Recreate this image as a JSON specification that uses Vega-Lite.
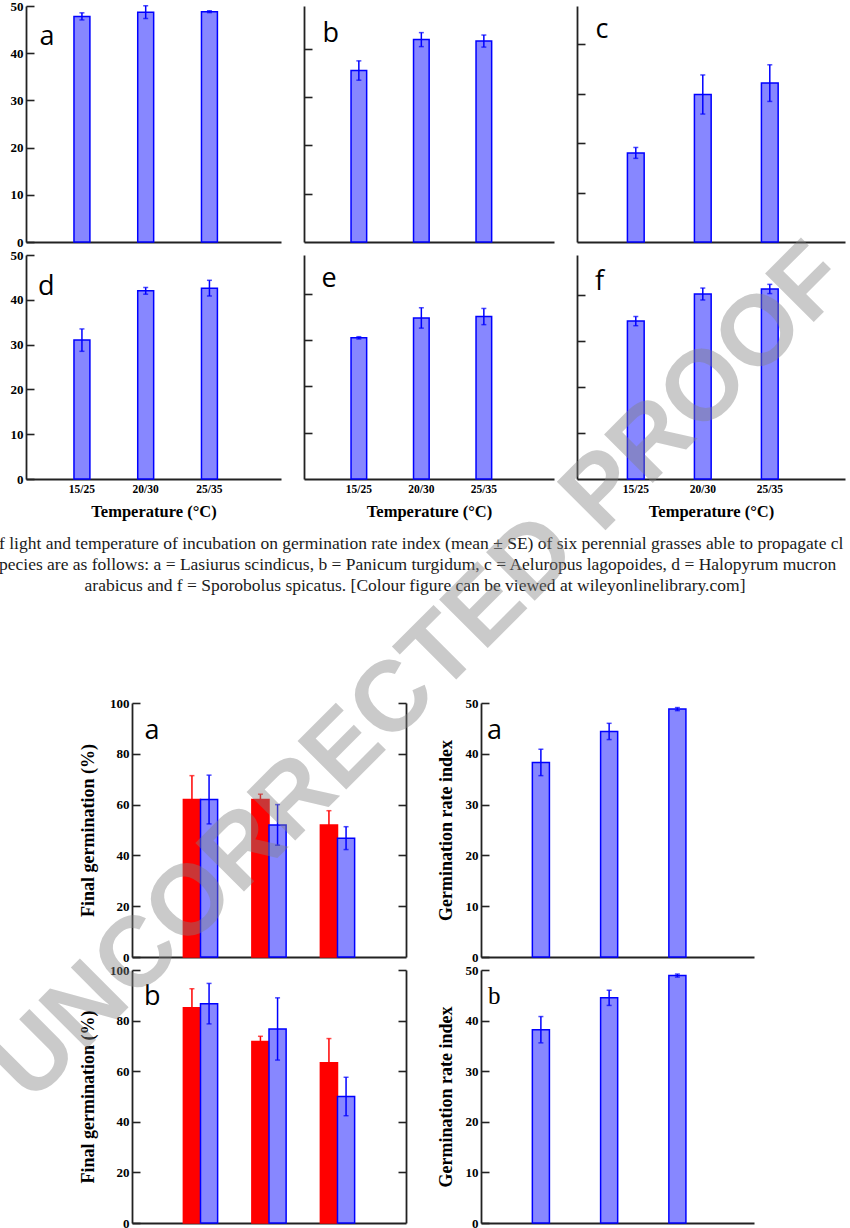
{
  "$schema": "https://vega.github.io/schema/vega-lite/v6.json",
  "background": "white",
  "padding": {"left": -26, "top": 0, "right": 0, "bottom": 0},
  "title": {
    "text": "UNCORRECTED PROOF",
    "orient": "top",
    "anchor": "middle",
    "frame": "bounds",
    "offset": -1561,
    "angle": -45,
    "baseline": "middle",
    "dx": -5,
    "font": "Liberation Sans",
    "fontSize": 100,
    "fontWeight": "bold",
    "color": "rgba(128,128,128,0.42)",
    "zindex": -1
  },
  "datasets": {
    "rate6": [
      {"panel": "a", "temp": "15/25", "mean": 47.8, "se": 0.75},
      {"panel": "a", "temp": "20/30", "mean": 48.7, "se": 1.35},
      {"panel": "a", "temp": "25/35", "mean": 48.8, "se": 0.2},
      {"panel": "b", "temp": "15/25", "mean": 35.5, "se": 2.0},
      {"panel": "b", "temp": "20/30", "mean": 41.9, "se": 1.45},
      {"panel": "b", "temp": "25/35", "mean": 41.6, "se": 1.25},
      {"panel": "c", "temp": "15/25", "mean": 18.0, "se": 1.1},
      {"panel": "c", "temp": "20/30", "mean": 29.8, "se": 3.95},
      {"panel": "c", "temp": "25/35", "mean": 32.1, "se": 3.7},
      {"panel": "d", "temp": "15/25", "mean": 31.0, "se": 2.5},
      {"panel": "d", "temp": "20/30", "mean": 42.0, "se": 0.75},
      {"panel": "d", "temp": "25/35", "mean": 42.6, "se": 1.75},
      {"panel": "e", "temp": "15/25", "mean": 30.5, "se": 0.25},
      {"panel": "e", "temp": "20/30", "mean": 34.8, "se": 2.2},
      {"panel": "e", "temp": "25/35", "mean": 35.1, "se": 1.75},
      {"panel": "f", "temp": "15/25", "mean": 34.4, "se": 1.0},
      {"panel": "f", "temp": "20/30", "mean": 40.3, "se": 1.3},
      {"panel": "f", "temp": "25/35", "mean": 41.4, "se": 1.0}
    ],
    "final": [
      {"panel": "a", "temp": "15/25", "treatment": "Dark", "mean": 62, "se": 9.4},
      {"panel": "a", "temp": "15/25", "treatment": "Light", "mean": 62, "se": 9.6},
      {"panel": "a", "temp": "20/30", "treatment": "Dark", "mean": 62, "se": 2.1},
      {"panel": "a", "temp": "20/30", "treatment": "Light", "mean": 52, "se": 8},
      {"panel": "a", "temp": "25/35", "treatment": "Dark", "mean": 52, "se": 5.6},
      {"panel": "a", "temp": "25/35", "treatment": "Light", "mean": 46.8, "se": 4.5},
      {"panel": "b", "temp": "15/25", "treatment": "Dark", "mean": 85.1, "se": 7.5},
      {"panel": "b", "temp": "15/25", "treatment": "Light", "mean": 86.7, "se": 8},
      {"panel": "b", "temp": "20/30", "treatment": "Dark", "mean": 71.7, "se": 2.1},
      {"panel": "b", "temp": "20/30", "treatment": "Light", "mean": 76.7, "se": 12.3},
      {"panel": "b", "temp": "25/35", "treatment": "Dark", "mean": 63.3, "se": 9.6},
      {"panel": "b", "temp": "25/35", "treatment": "Light", "mean": 50, "se": 7.6}
    ],
    "rate2": [
      {"panel": "a", "temp": "15/25", "mean": 38.3, "se": 2.6},
      {"panel": "a", "temp": "20/30", "mean": 44.4, "se": 1.6},
      {"panel": "a", "temp": "25/35", "mean": 48.8, "se": 0.3},
      {"panel": "b", "temp": "15/25", "mean": 38.2, "se": 2.6},
      {"panel": "b", "temp": "20/30", "mean": 44.5, "se": 1.5},
      {"panel": "b", "temp": "25/35", "mean": 48.9, "se": 0.3}
    ],
    "caption": [
      {"line": 1, "text": "f light and temperature of incubation on germination rate index (mean ± SE) of six perennial grasses able to propagate clo"},
      {"line": 2, "text": "pecies are as follows: a = Lasiurus scindicus, b = Panicum turgidum, c = Aeluropus lagopoides, d = Halopyrum mucronatum"},
      {"line": 3, "text": "arabicus and f = Sporobolus spicatus. [Colour figure can be viewed at wileyonlinelibrary.com]"}
    ]
  },
  "vconcat": [
    {
      "spacing": 13,
      "vconcat": [
        {
          "columns": 3,
          "spacing": {"row": 0, "column": 22},
          "concat": [
            {
              "width": 255, "height": 236,
              "title": {"text": "a", "offset": -50.5, "dx": 13.5},
              "data": {"name": "rate6"},
              "transform": [{"filter": "datum.panel === 'a'"}],
              "encoding": {
                "x": {"field": "temp", "type": "nominal", "scale": {"domain": ["15/25", "20/30", "25/35"], "paddingInner": 0.75, "paddingOuter": 0.875, "align": 0.43}, "axis": {"labels": false, "title": null}},
                "y": {"field": "mean", "type": "quantitative", "scale": {"domain": [0, 50], "nice": false}, "axis": {"values": [0, 10, 20, 30, 40, 50], "title": null}}
              },
              "layer": [
                {"mark": {"type": "bar", "fill": "#8787ff", "stroke": "#0000ff", "strokeWidth": 1.5}},
                {"mark": {"type": "errorbar", "ticks": true, "size": 5, "thickness": 1.5, "color": "#0000ff"}, "encoding": {"yError": {"field": "se"}}}
              ]
            },
            {
              "width": 250, "height": 236,
              "title": {"text": "b", "offset": -41.5, "dx": 18.5},
              "data": {"name": "rate6"},
              "transform": [{"filter": "datum.panel === 'b'"}],
              "encoding": {
                "x": {"field": "temp", "type": "nominal", "scale": {"domain": ["15/25", "20/30", "25/35"], "paddingInner": 0.75, "paddingOuter": 0.875, "align": 0.43}, "axis": {"labels": false, "title": null}},
                "y": {"field": "mean", "type": "quantitative", "scale": {"domain": [0, 48.86], "nice": false}, "axis": {"values": [10, 20, 30, 40], "labels": false, "title": null}}
              },
              "layer": [
                {"mark": {"type": "bar", "fill": "#8787ff", "stroke": "#0000ff", "strokeWidth": 1.5}},
                {"mark": {"type": "errorbar", "ticks": true, "size": 5, "thickness": 1.5, "color": "#0000ff"}, "encoding": {"yError": {"field": "se"}}}
              ]
            },
            {
              "width": 268, "height": 236,
              "title": {"text": "c", "offset": -37.5, "dx": 18.5},
              "data": {"name": "rate6"},
              "transform": [{"filter": "datum.panel === 'c'"}],
              "encoding": {
                "x": {"field": "temp", "type": "nominal", "scale": {"domain": ["15/25", "20/30", "25/35"], "paddingInner": 0.75, "paddingOuter": 0.875, "align": 0.43}, "axis": {"labels": false, "title": null}},
                "y": {"field": "mean", "type": "quantitative", "scale": {"domain": [0, 47.68], "nice": false}, "axis": {"values": [10, 20, 30, 40], "labels": false, "title": null}}
              },
              "layer": [
                {"mark": {"type": "bar", "fill": "#8787ff", "stroke": "#0000ff", "strokeWidth": 1.5}},
                {"mark": {"type": "errorbar", "ticks": true, "size": 5, "thickness": 1.5, "color": "#0000ff"}, "encoding": {"yError": {"field": "se"}}}
              ]
            },
            {
              "width": 255, "height": 224,
              "title": {"text": "d", "offset": -51.5, "dx": 12},
              "data": {"name": "rate6"},
              "transform": [{"filter": "datum.panel === 'd'"}],
              "encoding": {
                "x": {"field": "temp", "type": "nominal", "scale": {"domain": ["15/25", "20/30", "25/35"], "paddingInner": 0.75, "paddingOuter": 0.875, "align": 0.43}, "axis": {"title": "Temperature (°C)"}},
                "y": {"field": "mean", "type": "quantitative", "scale": {"domain": [0, 50], "nice": false}, "axis": {"values": [0, 10, 20, 30, 40, 50], "title": null}}
              },
              "layer": [
                {"mark": {"type": "bar", "fill": "#8787ff", "stroke": "#0000ff", "strokeWidth": 1.5}},
                {"mark": {"type": "errorbar", "ticks": true, "size": 5, "thickness": 1.5, "color": "#0000ff"}, "encoding": {"yError": {"field": "se"}}}
              ]
            },
            {
              "width": 250, "height": 224,
              "title": {"text": "e", "offset": -38, "dx": 17.5},
              "data": {"name": "rate6"},
              "transform": [{"filter": "datum.panel === 'e'"}],
              "encoding": {
                "x": {"field": "temp", "type": "nominal", "scale": {"domain": ["15/25", "20/30", "25/35"], "paddingInner": 0.75, "paddingOuter": 0.875, "align": 0.43}, "axis": {"title": "Temperature (°C)"}},
                "y": {"field": "mean", "type": "quantitative", "scale": {"domain": [0, 48.4], "nice": false}, "axis": {"values": [10, 20, 30, 40], "labels": false, "title": null}}
              },
              "layer": [
                {"mark": {"type": "bar", "fill": "#8787ff", "stroke": "#0000ff", "strokeWidth": 1.5}},
                {"mark": {"type": "errorbar", "ticks": true, "size": 5, "thickness": 1.5, "color": "#0000ff"}, "encoding": {"yError": {"field": "se"}}}
              ]
            },
            {
              "width": 268, "height": 224,
              "title": {"text": "f", "offset": -40.5, "dx": 18},
              "data": {"name": "rate6"},
              "transform": [{"filter": "datum.panel === 'f'"}],
              "encoding": {
                "x": {"field": "temp", "type": "nominal", "scale": {"domain": ["15/25", "20/30", "25/35"], "paddingInner": 0.75, "paddingOuter": 0.875, "align": 0.43}, "axis": {"title": "Temperature (°C)"}},
                "y": {"field": "mean", "type": "quantitative", "scale": {"domain": [0, 48.8], "nice": false}, "axis": {"values": [10, 20, 30, 40], "labels": false, "title": null}}
              },
              "layer": [
                {"mark": {"type": "bar", "fill": "#8787ff", "stroke": "#0000ff", "strokeWidth": 1.5}},
                {"mark": {"type": "errorbar", "ticks": true, "size": 5, "thickness": 1.5, "color": "#0000ff"}, "encoding": {"yError": {"field": "se"}}}
              ]
            }
          ]
        },
        {
          "width": 823, "height": 63,
          "data": {"name": "caption"},
          "encoding": {
            "y": {"field": "line", "type": "ordinal", "axis": null},
            "text": {"field": "text"}
          },
          "layer": [
            {
              "transform": [{"filter": "datum.line < 3"}],
              "mark": {"type": "text", "font": "Liberation Serif", "fontSize": 17.5, "color": "#1a1a1a", "baseline": "middle", "align": "left", "dx": -438.5, "limit": 850, "ellipsis": " "}
            },
            {
              "transform": [{"filter": "datum.line === 3"}],
              "mark": {"type": "text", "font": "Liberation Serif", "fontSize": 17.5, "color": "#1a1a1a", "baseline": "middle", "align": "center", "dx": -22.5}
            }
          ]
        }
      ]
    },
    {
      "spacing": 30,
      "hconcat": [
        {"width": 23, "height": 10, "data": {"values": []}, "mark": "point"},
        {
          "columns": 2,
          "spacing": {"row": 0, "column": 30},
          "concat": [
            {
              "width": 274, "height": 254,
              "title": {"text": "a", "offset": -48, "dx": 12.5},
              "data": {"name": "final"},
              "transform": [{"filter": "datum.panel === 'a'"}],
              "encoding": {
                "x": {"field": "temp", "type": "nominal", "scale": {"domain": ["15/25", "20/30", "25/35"], "paddingInner": 0.5, "paddingOuter": 0.75}, "axis": {"labels": false, "title": null}},
                "xOffset": {"field": "treatment", "type": "nominal", "scale": {"domain": ["Dark", "Light"]}},
                "y": {"field": "mean", "type": "quantitative", "scale": {"domain": [0, 100], "nice": false}, "axis": {"values": [0, 20, 40, 60, 80, 100], "title": "Final germination (%)", "titlePadding": 12}}
              },
              "layer": [
                {
                  "mark": {"type": "bar", "strokeWidth": 1.5},
                  "encoding": {
                    "fill": {"field": "treatment", "type": "nominal", "scale": {"domain": ["Dark", "Light"], "range": ["#ff0000", "#8787ff"]}, "legend": null},
                    "stroke": {"field": "treatment", "type": "nominal", "scale": {"domain": ["Dark", "Light"], "range": ["#ff0000", "#0000ff"]}, "legend": null}
                  }
                },
                {
                  "mark": {"type": "errorbar", "ticks": true, "size": 5, "thickness": 1.5},
                  "encoding": {
                    "y": {"field": "mean", "type": "quantitative", "axis": {"orient": "right", "values": [20, 40, 60, 80, 100], "labels": false, "title": null}},
                    "yError": {"field": "se"},
                    "color": {"field": "treatment", "type": "nominal", "scale": {"domain": ["Dark", "Light"], "range": ["#ff0000", "#0000ff"]}, "legend": null}
                  }
                }
              ],
              "resolve": {"axis": {"y": "independent"}}
            },
            {
              "width": 273, "height": 254,
              "title": {"text": "a", "offset": -48, "dx": 6},
              "data": {"name": "rate2"},
              "transform": [{"filter": "datum.panel === 'a'"}],
              "encoding": {
                "x": {"field": "temp", "type": "nominal", "scale": {"domain": ["15/25", "20/30", "25/35"], "paddingInner": 0.75, "paddingOuter": 0.875, "align": 0.43}, "axis": {"labels": false, "title": null}},
                "y": {"field": "mean", "type": "quantitative", "scale": {"domain": [0, 50], "nice": false}, "axis": {"values": [0, 10, 20, 30, 40, 50], "title": "Germination rate index", "titlePadding": 10}}
              },
              "layer": [
                {"mark": {"type": "bar", "fill": "#8787ff", "stroke": "#0000ff", "strokeWidth": 1.5}},
                {"mark": {"type": "errorbar", "ticks": true, "size": 5, "thickness": 1.5, "color": "#0000ff"}, "encoding": {"yError": {"field": "se"}}}
              ]
            },
            {
              "width": 274, "height": 253,
              "title": {"text": "b", "offset": -46.5, "dx": 12},
              "data": {"name": "final"},
              "transform": [{"filter": "datum.panel === 'b'"}],
              "encoding": {
                "x": {"field": "temp", "type": "nominal", "scale": {"domain": ["15/25", "20/30", "25/35"], "paddingInner": 0.5, "paddingOuter": 0.75}, "axis": {"labels": false, "title": null}},
                "xOffset": {"field": "treatment", "type": "nominal", "scale": {"domain": ["Dark", "Light"]}},
                "y": {"field": "mean", "type": "quantitative", "scale": {"domain": [0, 100], "nice": false}, "axis": {"values": [0, 20, 40, 60, 80, 100], "title": "Final germination (%)", "titlePadding": 12}}
              },
              "layer": [
                {
                  "mark": {"type": "bar", "strokeWidth": 1.5},
                  "encoding": {
                    "fill": {"field": "treatment", "type": "nominal", "scale": {"domain": ["Dark", "Light"], "range": ["#ff0000", "#8787ff"]}, "legend": null},
                    "stroke": {"field": "treatment", "type": "nominal", "scale": {"domain": ["Dark", "Light"], "range": ["#ff0000", "#0000ff"]}, "legend": null}
                  }
                },
                {
                  "mark": {"type": "errorbar", "ticks": true, "size": 5, "thickness": 1.5},
                  "encoding": {
                    "y": {"field": "mean", "type": "quantitative", "axis": {"orient": "right", "values": [20, 40, 60, 80, 100], "labels": false, "title": null}},
                    "yError": {"field": "se"},
                    "color": {"field": "treatment", "type": "nominal", "scale": {"domain": ["Dark", "Light"], "range": ["#ff0000", "#0000ff"]}, "legend": null}
                  }
                }
              ],
              "resolve": {"axis": {"y": "independent"}}
            },
            {
              "width": 273, "height": 253,
              "title": {"text": "b", "offset": -44.5, "dx": 7, "font": "Liberation Serif", "fontSize": 25},
              "data": {"name": "rate2"},
              "transform": [{"filter": "datum.panel === 'b'"}],
              "encoding": {
                "x": {"field": "temp", "type": "nominal", "scale": {"domain": ["15/25", "20/30", "25/35"], "paddingInner": 0.75, "paddingOuter": 0.875, "align": 0.43}, "axis": {"labels": false, "title": null}},
                "y": {"field": "mean", "type": "quantitative", "scale": {"domain": [0, 50], "nice": false}, "axis": {"values": [0, 10, 20, 30, 40, 50], "title": "Germination rate index", "titlePadding": 10}}
              },
              "layer": [
                {"mark": {"type": "bar", "fill": "#8787ff", "stroke": "#0000ff", "strokeWidth": 1.5}},
                {"mark": {"type": "errorbar", "ticks": true, "size": 5, "thickness": 1.5, "color": "#0000ff"}, "encoding": {"yError": {"field": "se"}}}
              ]
            }
          ]
        }
      ]
    }
  ],
  "spacing": 101,
  "config": {
    "view": {"stroke": null},
    "title": {"anchor": "start", "frame": "group", "orient": "top", "baseline": "alphabetic", "font": "Open Sans", "fontSize": 27, "fontWeight": "normal", "color": "#000000"},
    "axis": {
      "grid": false,
      "domainColor": "#222222",
      "domainWidth": 1.8,
      "tickColor": "#222222",
      "tickWidth": 1.6,
      "tickSize": -8,
      "labelPadding": 11,
      "labelFlush": false,
      "labelOverlap": false,
      "labelFont": "Liberation Serif",
      "labelFontWeight": "bold",
      "labelFontSize": 13,
      "labelColor": "#000000",
      "titleFont": "Liberation Serif",
      "titleFontWeight": "bold",
      "titleFontSize": 18,
      "titleColor": "#000000"
    },
    "axisX": {"ticks": false, "labelPadding": 4, "labelAngle": 0, "labelFontSize": 11.5, "titleFontSize": 16.5, "titlePadding": 9}
  }
}
